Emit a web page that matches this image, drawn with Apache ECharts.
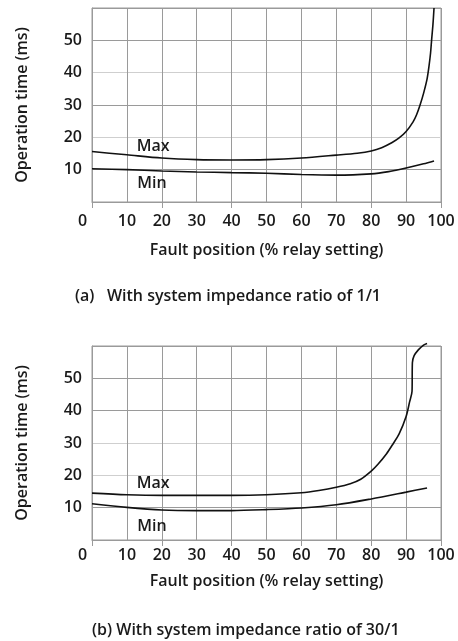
<!DOCTYPE html>
<html>
<head>
<meta charset="utf-8">
<script src="https://cdn.jsdelivr.net/npm/echarts@6.0.0/dist/echarts.min.js"></script>
<style>
  html, body { margin: 0; padding: 0; background: #fff; }
  #chart { width: 458px; height: 641px; }
</style>
</head>
<body>
<div id="chart"></div>
<script>
// x-axis ticks (fault position, % relay setting)
const xTicks = [0, 10, 20, 30, 40, 50, 60, 70, 80, 90, 100];

// (a) system impedance ratio 1/1
const posA_max = [0, 5, 10, 20, 30, 40, 50, 60, 70, 76, 80, 83, 86, 88, 90, 92, 93, 94, 95, 96, 96.5, 97, 97.3, 97.7, 98];
const timeA_max = [15.6, 15.1, 14.6, 13.6, 13.1, 13.0, 13.1, 13.6, 14.5, 15.1, 15.8, 16.8, 18.4, 19.8, 21.8, 24.8, 27, 30, 33.6, 38, 41.5, 46, 50, 55, 60];
const posA_min = [0, 10, 20, 30, 40, 50, 60, 70, 80, 85, 90, 95, 98];
const timeA_min = [10.3, 10.0, 9.6, 9.3, 9.1, 8.9, 8.5, 8.3, 8.7, 9.4, 10.5, 11.8, 12.7];

// (b) system impedance ratio 30/1
const posB_max = [0, 10, 20, 30, 40, 50, 60, 65, 70, 74, 77, 80, 82, 84.4, 86, 88, 90, 91, 91.7, 91.8, 92.3, 93.5, 95, 96];
const timeB_max = [14.5, 14.0, 13.8, 13.8, 13.8, 14.0, 14.6, 15.3, 16.3, 17.4, 18.8, 21.3, 23.5, 26.7, 29.3, 32.8, 38.2, 42.7, 46, 54.8, 57, 58.8, 60.3, 60.8];
const posB_min = [0, 10, 20, 30, 40, 50, 60, 70, 80, 90, 96];
const timeB_min = [11.2, 10.1, 9.3, 9.1, 9.1, 9.4, 9.9, 10.9, 12.7, 14.8, 16.1];

const captions = ['(a)   With system impedance ratio of 1/1', '(b) With system impedance ratio of 30/1'];

const FONT = '"Open Sans", "DejaVu Sans", sans-serif';
const TXT = '#1a1a1a';
const GRID = '#9a9a9a';
const LIGHT = '#cfcfcf';

function zip(xs, ys) {
  return xs.map((x, i) => [x, ys[i]]);
}

function xAxisFor(gi, gap, margin) {
  return [{
    type: 'value', gridIndex: gi, min: 0, max: 100, interval: 10,
    name: 'Fault position (% relay setting)', nameLocation: 'middle', nameGap: gap,
    nameTextStyle: { fontFamily: FONT, fontSize: 16, fontWeight: 600, color: TXT },
    axisLine: { show: true, lineStyle: { color: GRID, width: 1 } },
    axisTick: { show: false },
    axisLabel: {
      margin: margin, fontFamily: FONT, fontSize: 16, fontWeight: 600, color: TXT,
      formatter: v => v === 0 ? '{z|0}' : String(v),
      rich: { z: { fontFamily: FONT, fontSize: 16, fontWeight: 600, color: TXT, padding: [0, 19, 0, 0] } }
    },
    splitLine: { show: true, lineStyle: { color: GRID, width: 1 } }
  }, {
    // short ticks every 20 below the axis
    type: 'value', gridIndex: gi, min: 0, max: 100, interval: 20, position: 'bottom',
    axisLine: { show: false },
    axisTick: { show: true, length: 6, lineStyle: { color: GRID } },
    axisLabel: { show: false },
    splitLine: { show: false }
  }];
}

function yAxisFor(gi, colors) {
  return {
    type: 'value', gridIndex: gi, min: 0, max: 60, interval: 10,
    name: 'Operation time (ms)', nameLocation: 'middle', nameGap: 62, nameRotate: 90,
    nameTextStyle: { fontFamily: FONT, fontSize: 16, fontWeight: 600, color: TXT },
    axisLine: { show: true, lineStyle: { color: GRID, width: 1 } },
    axisTick: { show: false },
    axisLabel: {
      margin: 10, fontFamily: FONT, fontSize: 16, fontWeight: 600, color: TXT,
      formatter: v => (v === 0 || v === 60) ? '' : String(v)
    },
    splitLine: { show: true, lineStyle: { color: colors, width: 1 } }
  };
}

function curve(xi, yi, pts, tag, coord, clip) {
  return {
    type: 'line', xAxisIndex: xi, yAxisIndex: yi, data: pts,
    showSymbol: false, symbol: 'none', smooth: 0.3, clip: clip,
    lineStyle: { color: '#111', width: 1.6 },
    silent: true,
    markPoint: {
      symbol: 'circle', symbolSize: 0, silent: true,
      label: { show: true, position: 'inside', formatter: tag, fontFamily: FONT, fontSize: 16, fontWeight: 600, color: TXT },
      data: [{ coord: coord }]
    }
  };
}

const chart = echarts.init(document.getElementById('chart'), null, { renderer: 'canvas' });

chart.setOption({
  backgroundColor: '#fff',
  animation: false,
  title: [
    { text: captions[0], left: 70, top: 283, textStyle: { fontFamily: FONT, fontSize: 16, fontWeight: 600, color: TXT } },
    { text: captions[1], left: 87, top: 617, textStyle: { fontFamily: FONT, fontSize: 16, fontWeight: 600, color: TXT } }
  ],
  grid: [
    { left: 92, top: 8, width: 349, height: 194, show: true, borderColor: GRID, borderWidth: 1, backgroundColor: 'transparent', containLabel: false },
    { left: 92, top: 346, width: 349, height: 194, show: true, borderColor: GRID, borderWidth: 1, backgroundColor: 'transparent', containLabel: false }
  ],
  xAxis: [...xAxisFor(0, 40, 11), ...xAxisFor(1, 33, 7)],
  yAxis: [
    yAxisFor(0, [GRID, GRID, LIGHT, GRID, LIGHT, GRID, GRID]),
    yAxisFor(1, [GRID, GRID, LIGHT, LIGHT, GRID, GRID, GRID])
  ],
  series: [
    curve(0, 0, zip(posA_max, timeA_max), 'Max', [17.5, 17.2], true),
    curve(0, 0, zip(posA_min, timeA_min), 'Min', [17.2, 5.7], true),
    curve(2, 1, zip(posB_max, timeB_max), 'Max', [17.5, 17.6], false),
    curve(2, 1, zip(posB_min, timeB_min), 'Min', [17.2, 4.3], true)
  ]
});
</script>
</body>
</html>
